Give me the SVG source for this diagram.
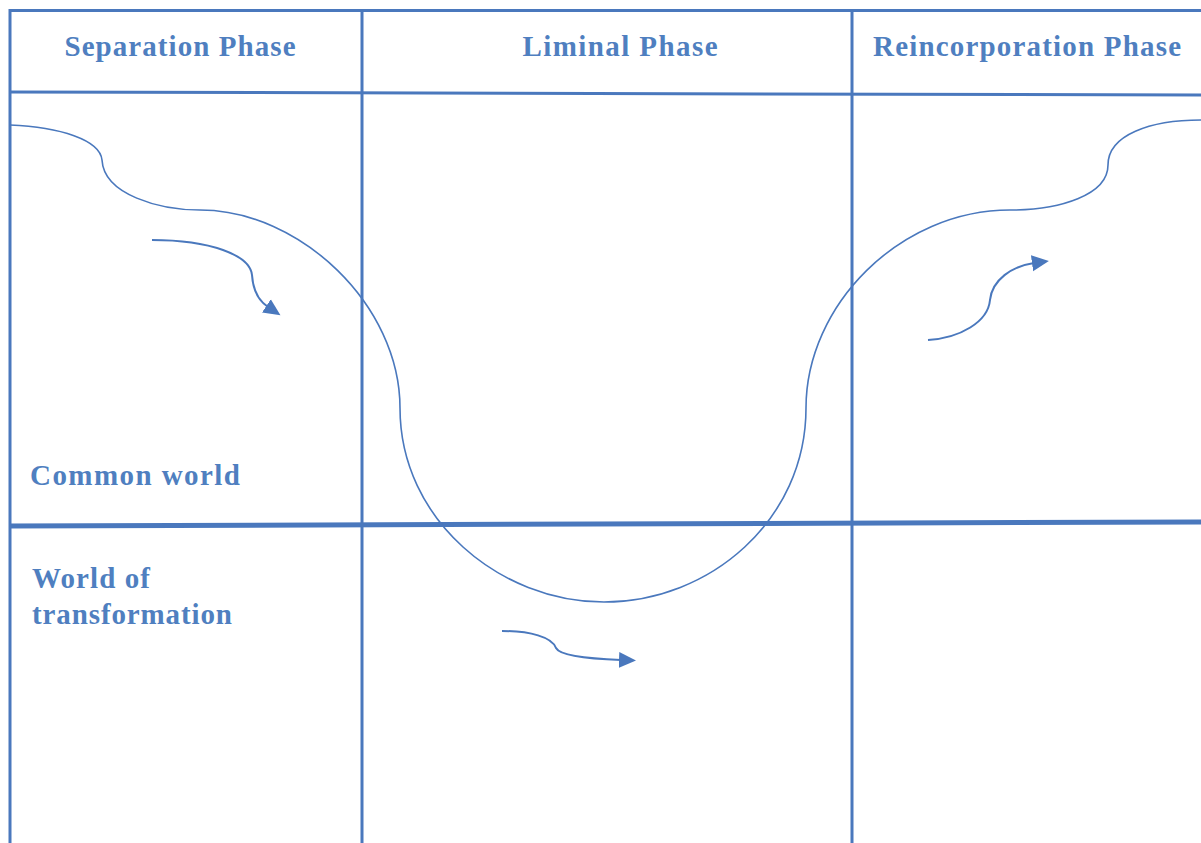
<svg xmlns="http://www.w3.org/2000/svg" width="1201" height="843" viewBox="0 0 1201 843">
<style>
.grid{stroke:#4a78bd;stroke-width:3;fill:none}
.thick{stroke:#4a78bd;stroke-width:5;fill:none}
.curve{stroke:#4a78bd;stroke-width:1.6;fill:none}
.arr{stroke:#4a78bd;stroke-width:2;fill:none;marker-end:url(#ah)}
.lbl{font-family:"Liberation Serif",serif;font-weight:bold;font-size:29px;fill:#4f7fc0}
</style>
<defs>
<marker id="ah" markerUnits="userSpaceOnUse" markerWidth="18" markerHeight="18" refX="2" refY="8" orient="auto" viewBox="0 0 18 16">
<path d="M0,0 L17,8 L0,16 Z" fill="#4a78bd"/>
</marker>
</defs>
<rect width="1201" height="843" fill="#ffffff"/>
<g id="grid">
<line class="grid" x1="9" y1="10.5" x2="1201" y2="10.5"/>
<line class="grid" x1="10" y1="9" x2="10" y2="843"/>
<line class="grid" x1="9" y1="92" x2="1201" y2="95"/>
<line class="grid" x1="362" y1="9" x2="362" y2="843"/>
<line class="grid" x1="852" y1="9" x2="852" y2="843"/>
<line class="thick" x1="9" y1="526" x2="1201" y2="522"/>
</g>
<g id="header-separation"><text class="lbl" x="180" y="56" text-anchor="middle" textLength="231">Separation Phase</text></g>
<g id="header-liminal"><text class="lbl" x="620" y="56" text-anchor="middle" textLength="195">Liminal Phase</text></g>
<g id="header-reincorporation"><text class="lbl" x="1027" y="56" text-anchor="middle" textLength="308">Reincorporation Phase</text></g>
<g id="label-common"><text class="lbl" x="30" y="485" textLength="210">Common world</text></g>
<g id="label-transformation"><text class="lbl" x="32" y="588" textLength="118">World of</text><text class="lbl" x="32" y="624" textLength="200">transformation</text></g>
<g id="connectors">
<path class="curve" d="M10,125 C60,127 100,140 102,160 C104,195 160,210 200,210 C300,210 400,305 400,408 C400,520 500,602 604,602 C710,602 806,520 806,408 C806,305 900,210 1010,210 C1060,210 1108,195 1108,165 C1108,135 1150,120 1201,120"/>
<path class="arr" d="M152,240 C210,240 250,255 252,275 C253,290 259,301 268,307"/>
<path class="arr" d="M928,340 C960,338 988,322 990,300 C992,280 1012,266 1034,263"/>
<path class="arr" d="M502,631 C530,631 552,637 556,648 C560,656 595,659 621,660"/>
</g>
</svg>
